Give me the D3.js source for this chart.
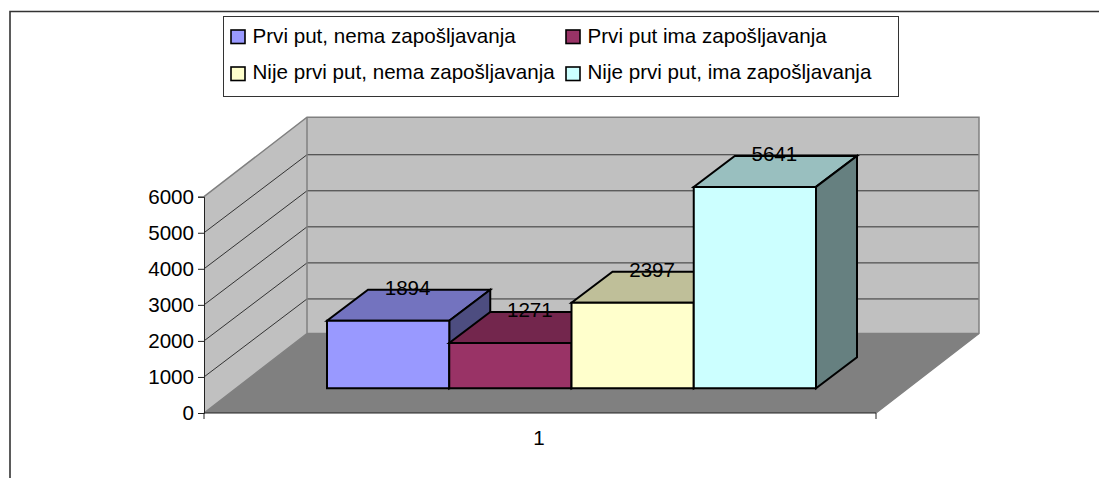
<!DOCTYPE html>
<html><head><meta charset="utf-8">
<script src="https://cdn.jsdelivr.net/npm/d3@7/dist/d3.min.js"></script>
<style>html,body{margin:0;padding:0;background:#fff}svg{display:block}text{font-family:"Liberation Sans",Arial,sans-serif;fill:#000}</style>
</head><body><div id="c"></div>
<script>
const categories = ["1"];
const seriesNames = ["Prvi put, nema zapošljavanja","Prvi put ima zapošljavanja","Nije prvi put, nema zapošljavanja","Nije prvi put, ima zapošljavanja"];
const seriesValues = [1894,1271,2397,5641];
const seriesColors = ["#9999ff","#993366","#ffffcc","#ccffff"];
const yTicks = [0,1000,2000,3000,4000,5000,6000];

const W=1099,H=478,FS=20.6;
const svg=d3.select("#c").append("svg").attr("width",W).attr("height",H);
const poly=(pts,fill,stroke,sw)=>svg.append("path").attr("d","M"+pts.map(p=>p.join(",")).join("L")+"Z").attr("fill",fill).attr("stroke",stroke||"none").attr("stroke-width",sw||0).attr("stroke-linejoin","miter");

// frame (open at right and bottom)
svg.append("path").attr("d","M10,478V11.5H1099").attr("fill","none").attr("stroke","#333").attr("stroke-width",1.6);

// plot geometry
const x0=204,x1=876,depthX=103,depthY=-79.5;
const y=d3.scaleLinear().domain([0,6000]).range([413,196.7]);
const xCat=d3.scaleBand().domain(categories).range([x0,x1]);

// walls and floor
poly([[x0+depthX,y(0)+depthY],[x1+depthX,y(0)+depthY],[x1+depthX,y(6000)+depthY],[x0+depthX,y(6000)+depthY]],"#c0c0c0");
poly([[x0,y(0)],[x0+depthX,y(0)+depthY],[x0+depthX,y(6000)+depthY],[x0,y(6000)]],"#c0c0c0");
poly([[x0,y(0)],[x1,y(0)],[x1+depthX,y(0)+depthY],[x0+depthX,y(0)+depthY]],"#808080");

// gridlines
yTicks.filter(t=>t>0&&t<6000).forEach(t=>{
  svg.append("path").attr("d",`M${x0},${y(t)}L${x0+depthX},${y(t)+depthY+1.5}H${x1+depthX}`).attr("fill","none").attr("stroke","#333").attr("stroke-width",1);
});
// wall outline
svg.append("path").attr("d",`M${x0},${y(6000)}L${x0+depthX},${y(6000)+depthY}H${x1+depthX}V${y(0)+depthY}L${x1},${y(0)}`).attr("fill","none").attr("stroke","#808080").attr("stroke-width",1.5);
svg.append("path").attr("d",`M${x0},${y(0)}L${x0+depthX},${y(0)+depthY}V${y(6000)+depthY}M${x0+depthX},${y(0)+depthY}H${x1+depthX}`).attr("fill","none").attr("stroke","#808080").attr("stroke-width",1.5);

// bars
const xBar=d3.scaleBand().domain(seriesNames).range([327,816]);
const barDX=41,barDY=-31;
const yBar=d3.scaleLinear().domain([0,6000]).range([388.3,174.1]);
const shade=(c,k)=>{const r=d3.rgb(c);return d3.rgb(r.r*k,r.g*k,r.b*k).formatHex();};
seriesNames.forEach((n,i)=>{
  const v=seriesValues[i],l=xBar(n),r=l+xBar.bandwidth(),t=yBar(v),b=yBar(0),c=seriesColors[i];
  poly([[l,t],[r,t],[r+barDX,t+barDY],[l+barDX,t+barDY]],shade(c,.75),"#000",2);
  poly([[r,t],[r+barDX,t+barDY],[r+barDX,b+barDY],[r,b]],shade(c,.5),"#000",2);
  poly([[l,t],[r,t],[r,b],[l,b]],c,"#000",2);
});
// data labels
seriesNames.forEach((n,i)=>{
  svg.append("text").attr("x",xBar(n)+xBar.bandwidth()/2+barDX/2-1).attr("y",yBar(seriesValues[i])+barDY+5)
    .attr("text-anchor","middle").attr("font-size",FS).text(seriesValues[i]);
});

// axes
const axL=svg.append("g").attr("transform",`translate(${x0},0)`).call(d3.axisLeft(y).tickValues(yTicks).tickSize(6).tickPadding(4).tickFormat(d3.format("d")));
axL.select(".domain").attr("stroke","#222").attr("stroke-width",1);
axL.selectAll(".tick line").attr("stroke","#222");
axL.selectAll("text").attr("font-size",FS).attr("font-family",null);
svg.append("path").attr("d",`M${x0},${y(0)}H${x1}M${x0},${y(0)}v6M${x1},${y(0)}v6`).attr("fill","none").attr("stroke","#222").attr("stroke-width",1);
const axB=svg.append("g").attr("transform",`translate(-1,${y(0)})`).call(d3.axisBottom(xCat).tickSize(0).tickPadding(17));
axB.select(".domain").remove();
axB.selectAll("text").attr("font-size",FS).attr("font-family",null);

// legend
svg.append("rect").attr("x",223.5).attr("y",16.5).attr("width",675).attr("height",80).attr("fill","#fff").attr("stroke","#333").attr("stroke-width",1);
const legX=[231,566],legY=[30,67],legTextY=[43,79];
seriesNames.forEach((n,i)=>{
  const cx=legX[i%2],cy=legY[i>>1];
  svg.append("rect").attr("x",cx).attr("y",cy).attr("width",14).attr("height",13.5).attr("fill",seriesColors[i]).attr("stroke","#000").attr("stroke-width",1.6);
  svg.append("text").attr("x",cx+21.5).attr("y",legTextY[i>>1]).attr("font-size",FS).text(n);
});
</script></body></html>
